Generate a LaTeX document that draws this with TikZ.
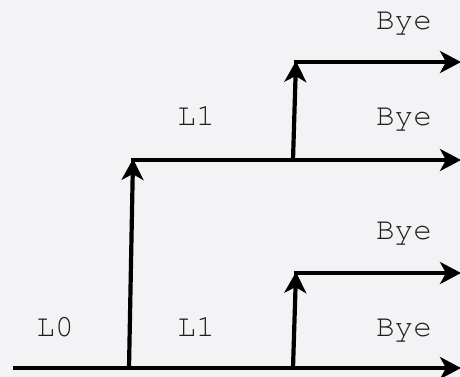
\documentclass[tikz,border=0pt]{standalone}
\usepackage{fontspec}
\setmonofont{TeX Gyre Cursor}
\usetikzlibrary{arrows.meta}
\definecolor{bg}{RGB}{243,243,245}
\definecolor{txt}{RGB}{30,30,30}
\tikzset{
  wire/.style={line width=4.2pt, -{Stealth[length=21pt,width=22pt,inset=6pt]}},
  lbl/.style={font=\ttfamily\fontsize{31}{31}\selectfont, text=txt, inner sep=0pt, anchor=base}
}
\begin{document}
\begin{tikzpicture}[x=1pt,y=-1pt]
\fill[bg] (0,0) rectangle (460,377);
\useasboundingbox (0,0) rectangle (460,377);
\coordinate (s0) at (13,368);
\coordinate (e0) at (461,368);
\coordinate (v1b) at (129,368);
\coordinate (v1t) at (133,159);
\coordinate (m1) at (131,160);
\coordinate (e1) at (461,160);
\coordinate (v2b) at (293,160);
\coordinate (v2t) at (296,61);
\coordinate (m2) at (294,62);
\coordinate (e2) at (461,62);
\coordinate (v3b) at (293,368);
\coordinate (v3t) at (296,272);
\coordinate (m3) at (294,273);
\coordinate (e3) at (461,273);
\draw[wire] (s0) -- (e0);
\draw[wire] (v1b) -- (v1t);
\draw[wire] (m1) -- (e1);
\draw[wire] (v2b) -- (v2t);
\draw[wire] (m2) -- (e2);
\draw[wire] (v3b) -- (v3t);
\draw[wire] (m3) -- (e3);
\node[lbl] (b1) at (404,30) {Bye};
\node[lbl] (b2) at (404,125) {Bye};
\node[lbl] (b3) at (404,239) {Bye};
\node[lbl] (b4) at (404,336) {Bye};
\node[lbl] (l1a) at (196,125) {L1};
\node[lbl] (l1b) at (196,336) {L1};
\node[lbl] (l0) at (55,336) {L0};
\end{tikzpicture}
\end{document}
